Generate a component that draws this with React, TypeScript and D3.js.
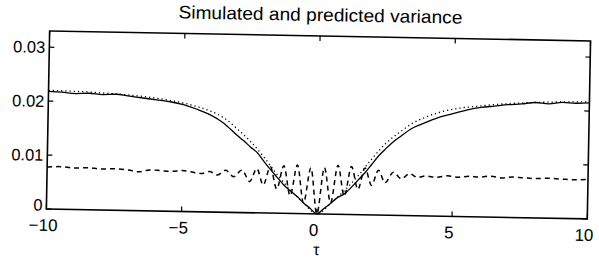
import React from "react";
import * as d3 from "d3";

// simulated variance (solid)
const simTau = [-10, -9.5, -9, -8.5, -8, -7.5, -7, -6.5, -6, -5.5, -5, -4.5, -4, -3.5, -3, -2.75, -2.5, -2.25, -2, -1.75, -1.5, -1.25, -1, -0.75, -0.5, -0.25, 0, 0.25, 0.5, 0.75, 1, 1.25, 1.5, 1.75, 2, 2.25, 2.5, 2.75, 3, 3.5, 4, 4.5, 5, 5.5, 6, 6.5, 7, 7.5, 8, 8.5, 9, 9.5, 10];
const simVar = [0.0218, 0.0217, 0.0215, 0.0216, 0.0214, 0.0215, 0.0212, 0.0209, 0.0206, 0.0203, 0.0198, 0.0190, 0.0180, 0.0165, 0.0143, 0.0133, 0.0122, 0.0112, 0.0096, 0.0081, 0.0067, 0.0053, 0.0042, 0.0032, 0.0020, 0.0010, 0.0, 0.0010, 0.0020, 0.0031, 0.0038, 0.0050, 0.0064, 0.0078, 0.0094, 0.0110, 0.0123, 0.0135, 0.0145, 0.0163, 0.0174, 0.0184, 0.0191, 0.0198, 0.0203, 0.0206, 0.0209, 0.0211, 0.0214, 0.0212, 0.0215, 0.0214, 0.0215];

// predicted variance (dotted)
const predTau = [-10, -9, -8, -7, -6, -5, -4.5, -4, -3.5, -3, -2.5, -2, -1.5, -1, -0.5, 0, 0.5, 1, 1.5, 2, 2.5, 3, 3.5, 4, 4.5, 5, 6, 7, 8, 9, 10];
const predVar = [0.0220, 0.0219, 0.0217, 0.0214, 0.0209, 0.0201, 0.0195, 0.0187, 0.0175, 0.0155, 0.0132, 0.0104, 0.0072, 0.0044, 0.0020, 0.0, 0.0020, 0.0044, 0.0072, 0.0104, 0.0133, 0.0154, 0.0172, 0.0184, 0.0193, 0.0199, 0.0206, 0.0211, 0.0214, 0.0216, 0.0217];

// third curve (dashed)
const dashTau = [-10, -9.5, -9, -8.5, -8, -7.5, -7, -6.6, -6.2, -5.8, -5.4, -5, -4.6, -4.3, -4, -3.7, -3.4, -3.1, -2.8, -2.5, -2.25, -2, -1.75, -1.5, -1.25, -1, -0.75, -0.5, -0.25, 0, 0.25, 0.5, 0.75, 1, 1.25, 1.5, 1.75, 2, 2.25, 2.5, 2.8, 3.1, 3.4, 3.7, 4, 4.4, 4.8, 5.2, 5.6, 6, 6.4, 6.8, 7.2, 7.6, 8, 8.5, 9, 9.5, 10];
const dashVar = [0.0078, 0.0079, 0.0077, 0.0078, 0.0076, 0.0077, 0.0075, 0.0072, 0.0076, 0.0075, 0.0074, 0.0076, 0.0073, 0.0071, 0.0075, 0.0069, 0.0078, 0.0066, 0.0079, 0.0058, 0.0082, 0.0052, 0.0086, 0.0045, 0.0088, 0.0033, 0.0090, 0.0020, 0.0085, 0.0, 0.0086, 0.0021, 0.0091, 0.0034, 0.0089, 0.0047, 0.0087, 0.0055, 0.0083, 0.0060, 0.0080, 0.0068, 0.0078, 0.0071, 0.0074, 0.0072, 0.0075, 0.0073, 0.0075, 0.0074, 0.0076, 0.0073, 0.0075, 0.0074, 0.0073, 0.0074, 0.0073, 0.0072, 0.0073];

const xTicks = [-10, -5, 0, 5, 10];
const yTicks = [0, 0.01, 0.02, 0.03];

const title = "Simulated and predicted variance";
const xLabel = "τ";

const W = 599;
const H = 260;
const left = 48;
const top = 31;
const pw = 541;
const ph = 178;

export default function App() {
  const x = d3.scaleLinear().domain([-10, 10]).range([left, left + pw]);
  const y = d3.scaleLinear().domain([0, 0.033]).range([top + ph, top]);

  const mk = (t: number[], v: number[]) =>
    d3
      .line<number>()
      .x((_, i) => x(t[i]))
      .y((d) => y(d))
      .curve(d3.curveMonotoneX)(v) || "";

  const fmt = (d: number) => (d === 0 ? "0" : d.toFixed(2));
  const fmtX = (d: number) => (d < 0 ? "\u2212" + Math.abs(d) : String(d));
  const font = "'Liberation Sans', Arial, Helvetica, sans-serif";

  return (
    <svg width={W} height={H} style={{ position: "absolute", left: 0, top: 0 }}>
      <rect width={W} height={H} fill="#fff" />
      {/* the scanned figure sits slightly tilted */}
      <g transform={`rotate(1.05 ${left} ${top + ph / 2})`} fontFamily={font} fill="#000">
        <text x={left + pw / 2} y={16} textAnchor="middle" fontSize={18} textLength={284} lengthAdjust="spacingAndGlyphs">
          {title}
        </text>
        <path d={mk(predTau, predVar)} fill="none" stroke="#000" strokeWidth={1.3} strokeDasharray="1.2,3" />
        <path d={mk(simTau, simVar)} fill="none" stroke="#000" strokeWidth={1.3} />
        <path d={mk(dashTau, dashVar)} fill="none" stroke="#000" strokeWidth={1.5} strokeDasharray="5,4" />
        <rect x={left} y={top} width={pw} height={ph} fill="none" stroke="#000" strokeWidth={1.6} />
        {xTicks.map((t) => (
          <g key={"x" + t}>
            <line x1={x(t)} x2={x(t)} y1={top + ph} y2={top + ph - 5} stroke="#000" strokeWidth={1.2} />
            <line x1={x(t)} x2={x(t)} y1={top} y2={top + 5} stroke="#000" strokeWidth={1.2} />
            <text x={x(t) - 3} y={231} textAnchor="middle" fontSize={17}>
              {fmtX(t)}
            </text>
          </g>
        ))}
        {yTicks.map((t) => (
          <g key={"y" + t}>
            <line x1={left} x2={left + 5} y1={y(t)} y2={y(t)} stroke="#000" strokeWidth={1.2} />
            <line x1={left + pw} x2={left + pw - 5} y1={y(t)} y2={y(t)} stroke="#000" strokeWidth={1.2} />
            <text x={left - 4} y={y(t)} dy={t === 0 ? "0.1em" : "0.35em"} textAnchor="end" fontSize={16.5}>
              {fmt(t)}
            </text>
          </g>
        ))}
        <text x={x(0)} y={250} textAnchor="middle" fontSize={16}>
          {xLabel}
        </text>
      </g>
    </svg>
  );
}
